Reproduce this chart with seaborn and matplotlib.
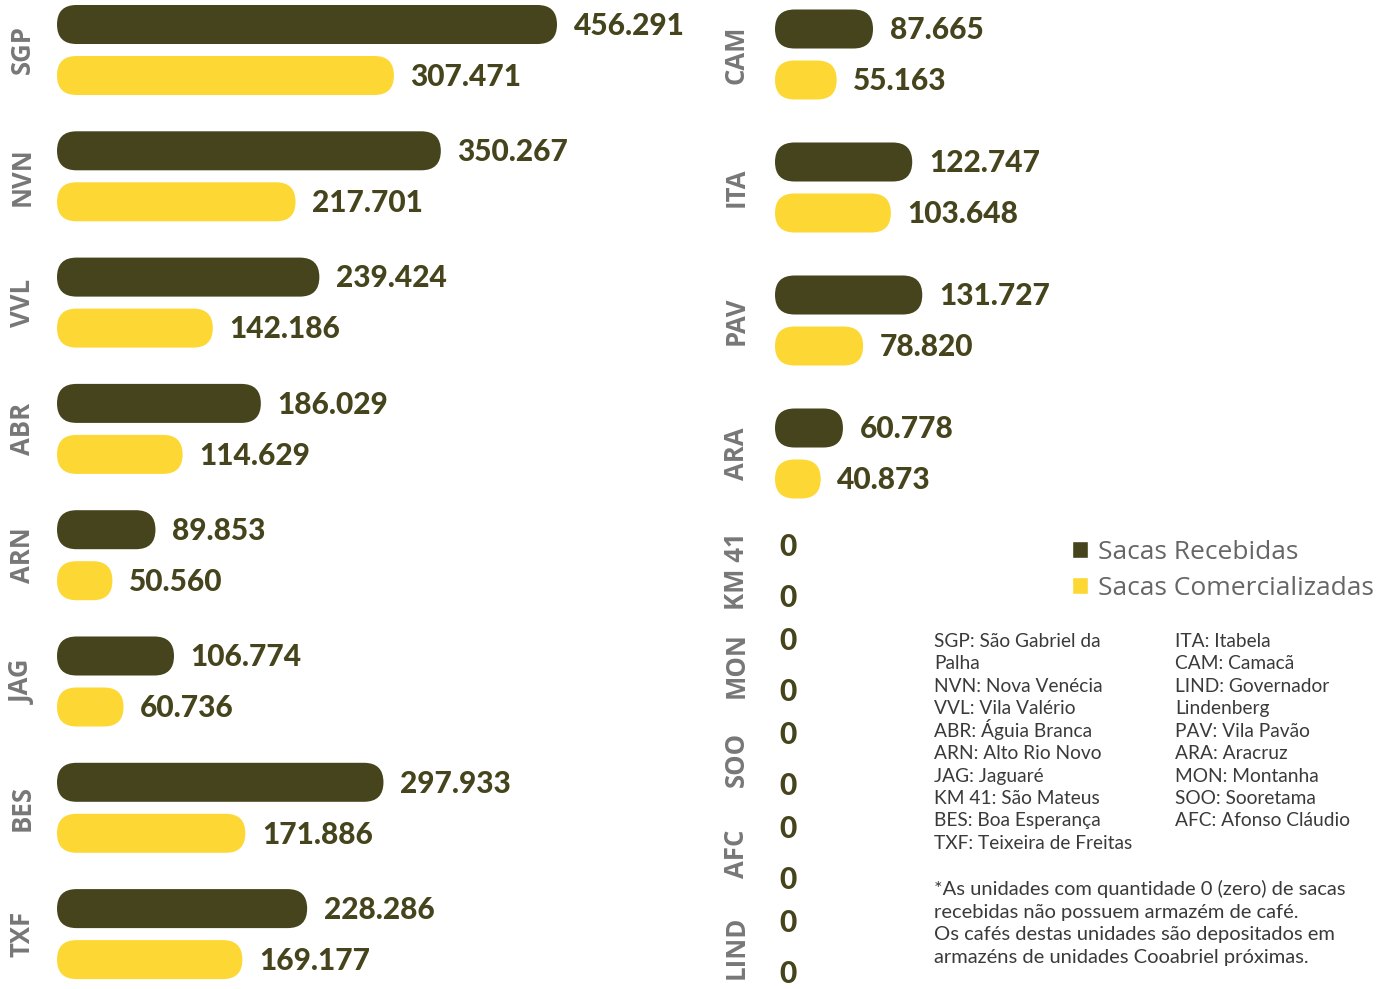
import matplotlib
matplotlib.use("Agg")
import pandas as pd
import seaborn as sns
import matplotlib.pyplot as plt
from matplotlib.patches import FancyBboxPatch, Patch
from matplotlib.transforms import IdentityTransform


# =========================
# DADOS
# =========================
SERIES = ["Sacas Recebidas", "Sacas Comercializadas"]

LEFT_UNITS = ["SGP", "NVN", "VVL", "ABR", "ARN", "JAG", "BES", "TXF"]
LEFT_RECEBIDAS = [456291, 350267, 239424, 186029, 89853, 106774, 297933, 228286]
LEFT_COMERCIALIZADAS = [307471, 217701, 142186, 114629, 50560, 60736, 171886, 169177]

RIGHT_UNITS = ["CAM", "ITA", "PAV", "ARA"]
RIGHT_RECEBIDAS = [87665, 122747, 131727, 60778]
RIGHT_COMERCIALIZADAS = [55163, 103648, 78820, 40873]

ZERO_UNITS = ["KM 41", "MON", "SOO", "AFC", "LIND"]
ZERO_RECEBIDAS = [0, 0, 0, 0, 0]
ZERO_COMERCIALIZADAS = [0, 0, 0, 0, 0]

GLOSSARIO_1 = [
    "SGP: São Gabriel da",
    "Palha",
    "NVN: Nova Venécia",
    "VVL: Vila Valério",
    "ABR: Águia Branca",
    "ARN: Alto Rio Novo",
    "JAG: Jaguaré",
    "KM 41: São Mateus",
    "BES: Boa Esperança",
    "TXF: Teixeira de Freitas",
]
GLOSSARIO_2 = [
    "ITA: Itabela",
    "CAM: Camacã",
    "LIND: Governador",
    "Lindenberg",
    "PAV: Vila Pavão",
    "ARA: Aracruz",
    "MON: Montanha",
    "SOO: Sooretama",
    "AFC: Afonso Cláudio",
]
NOTA = [
    "*As unidades com quantidade 0 (zero) de sacas",
    "recebidas não possuem armazém de café.",
    "Os cafés destas unidades são depositados em",
    "armazéns de unidades Cooabriel próximas.",
]

# =========================
# ESTILO
# =========================
DARK = "#45441C"
YELLOW = "#FDD835"
GRAY = "#777777"
TEXT = "#3a3a3a"
W, H = 1391, 989

sns.set_theme(style="white")
plt.rcParams["font.family"] = ["Lato", "DejaVu Sans"]


def montar_df(units, rec, com):
    return pd.DataFrame({
        "unidade": units * 2,
        "sacas": rec + com,
        "serie": [SERIES[0]] * len(units) + [SERIES[1]] * len(units),
    })


def fmt(v):
    return f"{v:,}".replace(",", ".")


def painel(fig, df, units, left, top, width, height, px_unit, c0, step, label_dx):
    ax = fig.add_axes([left / W, 1 - (top + height) / H, width / W, height / H])
    sns.barplot(
        data=df, y="unidade", x="sacas", hue="serie", orient="h",
        order=units, hue_order=SERIES, palette=[DARK, YELLOW], saturation=1,
        width=2 * 51 / step, gap=0.235, errorbar=None, legend=False, ax=ax,
    )
    ax.set_xlim(0, width / px_unit)
    ax.set_ylim((top + height - c0) / step, (top - c0) / step)
    ax.set_axis_off()

    # barras com pontas arredondadas
    for cont in ax.containers:
        for bar in cont:
            bw = bar.get_width()
            y = bar.get_y()
            bh = bar.get_height()
            if bw > 0:
                (x0, y0), (x1, y1) = ax.transData.transform([(0, y), (bw, y + bh)])
                py0, py1 = min(y0, y1), max(y0, y1)
                ph = py1 - py0
                rb = FancyBboxPatch(
                    (x0, py0), x1 - x0, ph,
                    boxstyle=f"round,pad=0,rounding_size={ph / 2}",
                    fc=bar.get_facecolor(), ec="none",
                    transform=IdentityTransform(), clip_on=False,
                )
                ax.add_artist(rb)
            bar.set_visible(False)
            off = 12 if bw > 0 else 3
            ax.annotate(
                fmt(int(bw)), xy=(bw, y + bh / 2), xytext=(off, -1),
                textcoords="offset points", va="center", ha="left",
                fontsize=21.5, fontweight=900, color=DARK,
            )

    for i, u in enumerate(units):
        ax.annotate(
            u, xy=(0, i), xycoords=("axes fraction", "data"),
            xytext=(label_dx, 0), textcoords="offset points",
            rotation=90, ha="center", va="center",
            fontsize=18.5, fontweight="bold", color=GRAY,
            family=["Open Sans", "DejaVu Sans"],
        )
    return ax


def bloco_texto(fig, x, y0, linhas, dy, size):
    for k, linha in enumerate(linhas):
        fig.text(x / W, 1 - (y0 + k * dy) / H, linha, fontsize=size,
                 color=TEXT, ha="left", va="baseline")


def main():
    fig = plt.figure(figsize=(W / 100, H / 100), dpi=100)

    painel(fig, montar_df(LEFT_UNITS, LEFT_RECEBIDAS, LEFT_COMERCIALIZADAS),
           LEFT_UNITS, 57, 0, 640, H, 500 / 456291, 50.0, 126.3, -25)
    painel(fig, montar_df(RIGHT_UNITS, RIGHT_RECEBIDAS, RIGHT_COMERCIALIZADAS),
           RIGHT_UNITS, 775, 0, 600, 500, 1.118e-3, 54.5, 133.0, -28)
    painel(fig, montar_df(ZERO_UNITS, ZERO_RECEBIDAS, ZERO_COMERCIALIZADAS),
           ZERO_UNITS, 775, 500, 600, 489, 1.118e-3, 571.5, 94.0, -28)

    fig.legend(
        handles=[Patch(fc=DARK), Patch(fc=YELLOW)], labels=SERIES,
        loc="upper left", bbox_to_anchor=(1072 / W, 1 - 540 / H),
        frameon=False, borderpad=0, borderaxespad=0,
        handlelength=0.62, handleheight=0.62,
        handletextpad=0.35, labelspacing=0.42, labelcolor="#666666",
        prop={"family": ["Open Sans", "DejaVu Sans"], "size": 19},
    )

    bloco_texto(fig, 934, 647, GLOSSARIO_1, 22.43, 13.8)
    bloco_texto(fig, 1175, 647, GLOSSARIO_2, 22.43, 13.8)
    bloco_texto(fig, 934, 895, NOTA, 22.6, 14.5)

    fig.savefig("out.png", dpi=100)
    plt.close(fig)


if __name__ == "__main__":
    main()
